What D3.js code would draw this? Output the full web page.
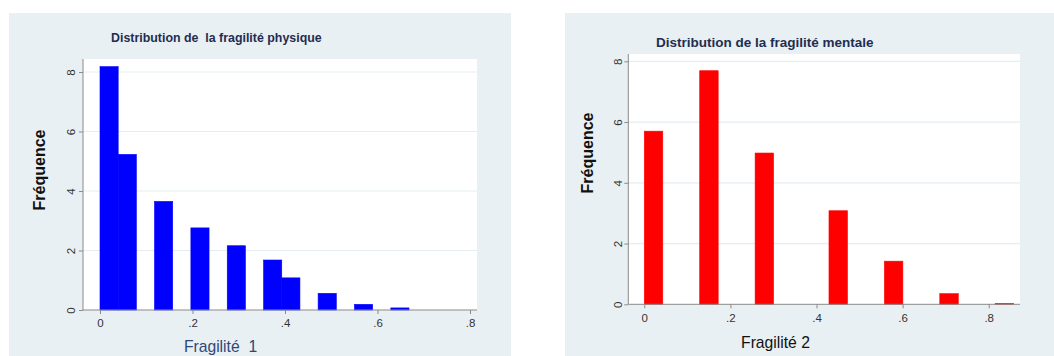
<!DOCTYPE html>
<html>
<head>
<meta charset="utf-8">
<script src="https://cdn.jsdelivr.net/npm/d3@7"></script>
<style>
  html, body { margin: 0; padding: 0; background: #ffffff; }
  svg { display: block; font-family: "Liberation Sans", Arial, sans-serif; }
</style>
</head>
<body>
<svg id="chart" width="1054" height="356"></svg>
<script>
// Histogram of physical frailty (Fragilité 1): bin start and density
const physBinStart = [0, 0.0393, 0.1179, 0.1965, 0.2751, 0.3537, 0.393, 0.4716, 0.5502, 0.6288];
const physFreq     = [8.18, 5.23, 3.65, 2.76, 2.16, 1.68, 1.08, 0.56, 0.19, 0.07];
const physBinWidth = 0.0393;

// Histogram of mental frailty (Fragilité 2)
const mentBinStart = [0, 0.1287, 0.2574, 0.429, 0.5577, 0.6864, 0.8151];
const mentFreq     = [5.70, 7.69, 4.98, 3.08, 1.42, 0.35, 0.03];
const mentBinWidth = 0.0429;

// Axis ticks
const xTicks = [0, 0.2, 0.4, 0.6, 0.8];
const xTickLabels = ["0", ".2", ".4", ".6", ".8"];
const yTicks = [0, 2, 4, 6, 8];

const svg = d3.select("#chart");

function panel(cfg) {
  const g = svg.append("g");
  // outer panel background
  g.append("rect")
    .attr("x", cfg.bg[0]).attr("y", cfg.bg[1])
    .attr("width", cfg.bg[2]).attr("height", cfg.bg[3])
    .attr("fill", "#e9f0f3");
  // plot region
  g.append("rect")
    .attr("x", cfg.plot[0]).attr("y", cfg.plot[1])
    .attr("width", cfg.plot[2] - cfg.plot[0]).attr("height", cfg.plot[3] - cfg.plot[1])
    .attr("fill", "#ffffff");

  const x = d3.scaleLinear().domain([0, 0.8]).range(cfg.xRange);
  const y = d3.scaleLinear().domain([0, 8]).range(cfg.yRange);

  // horizontal gridlines
  g.selectAll("line.grid").data(yTicks.filter(d => d > 0)).join("line")
    .attr("x1", cfg.plot[0]).attr("x2", cfg.plot[2])
    .attr("y1", d => y(d)).attr("y2", d => y(d))
    .attr("stroke", "#e4edf0").attr("stroke-width", 1.2);

  // bars (thin same-colour outline keeps adjacent bins seamless)
  g.selectAll("rect.bar").data(cfg.starts.map((s, i) => ({ s, v: cfg.freq[i] }))).join("rect")
    .attr("x", d => x(d.s))
    .attr("width", d => x(d.s + cfg.width) - x(d.s))
    .attr("y", d => y(d.v))
    .attr("height", d => y(0) - y(d.v))
    .attr("fill", cfg.color)
    .attr("stroke", cfg.color)
    .attr("stroke-width", 0.6);

  // y axis
  const yAxis = g.append("g")
    .attr("transform", `translate(${cfg.plot[0]},0)`)
    .call(d3.axisLeft(y).tickValues(yTicks).tickSize(4).tickSizeOuter(0).tickFormat(d3.format("d")));
  yAxis.select(".domain").attr("stroke", "#8a8a8a").attr("d", `M0,${cfg.plot[1]}V${cfg.plot[3]}`);
  yAxis.selectAll(".tick line").attr("stroke", "#8a8a8a");
  yAxis.selectAll(".tick text")
    .attr("x", null).attr("dy", null)
    .attr("transform", `translate(${-cfg.yLabelGap},0) rotate(-90)`)
    .attr("text-anchor", "middle")
    .attr("font-size", 11.5)
    .attr("fill", "#333333");

  // x axis
  const xAxis = g.append("g")
    .attr("transform", `translate(0,${cfg.plot[3]})`)
    .call(d3.axisBottom(x).tickValues(xTicks).tickSize(4).tickSizeOuter(0)
      .tickFormat((d, i) => xTickLabels[i]));
  xAxis.select(".domain").attr("stroke", "#8a8a8a").attr("d", `M${cfg.plot[0]},0H${cfg.plot[2]}`);
  xAxis.selectAll(".tick line").attr("stroke", "#8a8a8a");
  xAxis.selectAll(".tick text")
    .attr("y", cfg.xLabelY).attr("dy", null)
    .attr("font-size", 11.5)
    .attr("fill", "#333333");

  g.selectAll(".tick text").attr("font-family", "Liberation Sans, Arial, sans-serif");

  // title
  g.append("text")
    .attr("x", cfg.title.x).attr("y", cfg.title.y)
    .attr("font-size", cfg.title.size).attr("font-weight", "bold")
    .attr("fill", "#1f2d50")
    .style("white-space", "pre")
    .text(cfg.title.text);

  // y title
  g.append("text")
    .attr("transform", `translate(${cfg.yTitle.x},${cfg.yTitle.y}) rotate(-90)`)
    .attr("text-anchor", "middle")
    .attr("font-size", 16).attr("font-weight", "bold")
    .attr("fill", "#111111")
    .text("Fréquence");

  // x title
  g.append("text")
    .attr("x", cfg.xTitle.x).attr("y", cfg.xTitle.y)
    .attr("text-anchor", "middle")
    .attr("font-size", 15.7)
    .attr("fill", cfg.xTitle.color)
    .style("white-space", "pre")
    .text(cfg.xTitle.text);
}

panel({
  bg: [9, 13, 502, 343],
  plot: [83, 59, 477, 310],
  xRange: [100, 470],
  yRange: [310, 72],
  starts: physBinStart, freq: physFreq, width: physBinWidth,
  color: "#0000ff",
  yLabelGap: 8,
  xLabelY: 17.3,
  title: { text: "Distribution de  la fragilité physique", x: 111, y: 42, size: 12.4 },
  yTitle: { x: 45, y: 170 },
  xTitle: { text: "Fragilité  1", x: 220.5, y: 351.5, color: "#2f4777" }
});

panel({
  bg: [565, 13, 489, 343],
  plot: [628.3, 54, 1020, 304.3],
  xRange: [644.3, 988.7],
  yRange: [304.3, 61.3],
  starts: mentBinStart, freq: mentFreq, width: mentBinWidth,
  color: "#ff0000",
  yLabelGap: 6.6,
  xLabelY: 17.4,
  title: { text: "Distribution de la fragilité mentale", x: 656, y: 46.5, size: 13.5 },
  yTitle: { x: 593, y: 153 },
  xTitle: { text: "Fragilité 2", x: 775.5, y: 348.3, color: "#111111" }
});
</script>
</body>
</html>
